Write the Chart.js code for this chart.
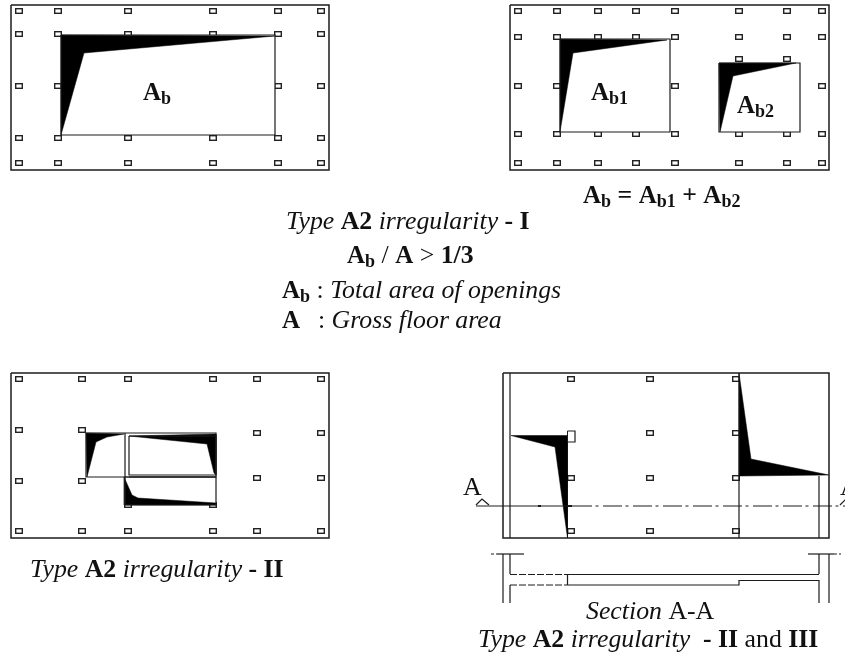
<!DOCTYPE html>
<html>
<head>
<meta charset="utf-8">
<style>html,body{margin:0;padding:0;background:#fff;overflow:hidden}canvas{display:block}</style>
<script src="https://cdn.jsdelivr.net/npm/chart.js@4/dist/chart.umd.min.js"></script>
</head>
<body>
<canvas id="c" width="845" height="660" style="width:845px;height:660px"></canvas>
<script>
// ---------- column marks: x list x y list per panel ----------
const p1ColX = [19, 58, 128, 213, 278, 321];
const p1RowY = [11, 34, 138, 163];
const p1MidX = [19, 58, 278, 321];
const p1MidY = [86];

const p2ColX = [518, 557, 598, 636, 675, 739, 787, 822];
const p2RowY = [11, 37, 134, 163];
const p2MidX = [518, 557, 675, 822];
const p2MidY = [86];
const p2UpperX = [739, 787];
const p2UpperY = [59];

const p3RowAllX = [19, 82, 128, 213, 257, 321];
const p3RowAllY = [379, 531];
const p3LeftX = [19, 82];
const p3LeftY = [430, 481];
const p3RightX = [257, 321];
const p3RightY = [433, 478];
const p3LowX = [128, 213];
const p3LowY = [505];

const p4AX = [571, 650, 736, 822];
const p4AY = [379];
const p4BX = [650, 736, 822];
const p4BY = [433];
const p4CX = [571, 650, 736];
const p4CY = [478, 531];

// ---------- openings (white interiors) ----------
const open1 = [[61,35],[275,35],[275,135],[61,135],[61,35]];
const openB1 = [[560,39],[670,39],[670,132],[560,132],[560,39]];
const openB2 = [[719,63],[800,63],[800,132],[719,132],[719,63]];
const open3A = [[86,433],[216,433],[216,477],[86,477],[86,433]];
const open3B = [[124.5,477],[216,477],[216,505],[124.5,505],[124.5,477]];
const open4A = [[739,373],[829,373],[829,476],[739,476],[739,373]];

// ---------- black wedges ----------
const wedge1 = [[61,35],[275,36],[84,53],[61,135],[61,35]];
const wedgeB1 = [[560,39],[667,40],[573,53],[560,132],[560,39]];
const wedgeB2 = [[719,63],[796,63],[733,76],[720,132],[719,63]];
const wedge3A = [[86,433],[124,434],[107,437],[96,442],[87,477],[86,433]];
const wedge3B = [[129,436],[216,434],[216,475],[214,473],[207,444],[129,436]];
const wedge3C = [[124,477],[132,495],[138,498],[216,503],[216,505],[124,505],[124,477]];
const wedge4A = [[511,435.5],[567.5,435.5],[567.5,538],[555,447],[511,435.5]];
const wedge4B = [[739,373],[751,459],[829,475],[739,476],[739,373]];

// ---------- outlines ----------
const frame1 = [[11,5],[329,5],[329,170],[11,170],[11,5]];
const frame2 = [[510,5],[829,5],[829,170],[510,170],[510,5]];
const frame3 = [[11,373],[329,373],[329,538],[11,538],[11,373]];
const frame4 = [[503,373],[829,373],[829,538],[503,538],[503,373]];
const wall4L = [[510,373],[510,538]];
const wall4R = [[739,373],[739,538]];
const wall4S = [[819,476],[819,538]];
const tallMark = [[567.5,431],[575,431],[575,442],[567.5,442]];
const tallInner = [[567.5,431],[567.5,442]];
const inner3 = [[129,436],[216,436],[216,475],[129,475],[129,436]];
const cut3 = [[125,433],[125,505]];
const cut3b = [[129,477],[216,477]];

const sectionSolid = [[476,506],[573,506]];
const sectionDash = [[573,506],[845,506]];
const sectionDot1 = [[538,506],[541,506]];
const sectionDot2 = [[568,506],[572,506]];
const arrowL = [[476,505],[482,499],[489,505]];
const arrowR = [[840,505],[846,499],[852,505]];

// ---------- section A-A ----------
const colA = [[503,554],[503,603]];
const colB = [[510,554],[510,574]];
const colB2 = [[510,585],[510,603]];
const colC = [[819,554],[819,574]];
const colC2 = [[819,580],[819,603]];
const colD = [[829,554],[829,603]];
const capL = [[497,554],[524,554]];
const capLd = [[491,554],[497,554]];
const capR = [[808,554],[834,554]];
const capRd = [[834,554],[841,554]];
const slabTop = [[567,574.5],[819,574.5]];
const slabTopD = [[510,574.5],[567,574.5]];
const slabBot = [[567,585],[739,585],[739,580.5],[819,580.5]];
const slabBotD = [[510,585],[567,585]];
const slabEnd = [[567.5,574.5],[567.5,585]];

// ---------- text ----------
const textRuns = [
  [["A","B"],["b","S"]],
  [["A","B"],["b1","S"]],
  [["A","B"],["b2","S"]],
  [["A","B"],["b","S"],[" = ","B2"],["A","B"],["b1","S"],[" + ","B2"],["A","B"],["b2","S"]],
  [["Type ","I"],["A2","B2"],[" irregularity ","I"],["- I","B2"]],
  [["A","B"],["b","S"],[" / ","R"],["A","B"],[" > ","R"],["1/3","B2"]],
  [["A","B"],["b","S"],[" : ","R"],["Total area of openings","I"]],
  [["A","B"]],
  [[": ","R"],["Gross floor area","I"]],
  [["Type ","I"],["A2","B2"],[" irregularity ","I"],["- II","B2"]],
  [["Section ","I"],["A-A","R"]],
  [["Type ","I"],["A2","B2"],[" irregularity  ","I"],["- II ","B2"],["and ","R"],["III","B2"]],
  [["A","R"]],
  [["A","R"]]
];
const textX = [143, 591, 737, 583, 286, 347, 282, 282, 318, 30, 586, 478, 463, 840];
const textY = [100, 100, 113, 203, 229, 263, 298, 328, 328, 577, 619, 647, 495, 495];

// ---------- styles ----------
const fontMap = {
  B:  {f:"bold 25px 'Liberation Serif'", dy:0},
  S:  {f:"bold 18px 'Liberation Serif'", dy:4},
  B2: {f:"bold 25.8px 'Liberation Serif'", dy:0},
  I:  {f:"italic 25.8px 'Liberation Serif'", dy:0},
  R:  {f:"25.8px 'Liberation Serif'", dy:0}
};
const INK = '#1c1c1c';

function pts(a){ return a.map(p => ({x:p[0], y:p[1]})); }
function grid(xs, ys){ const o=[]; ys.forEach(y => xs.forEach(x => o.push({x, y}))); return o; }

const markImg = document.createElement('canvas');
markImg.width = 8; markImg.height = 6;
(function(){ const g = markImg.getContext('2d');
  g.fillStyle='#fff'; g.fillRect(0,0,8,6);
  g.strokeStyle='#222'; g.lineWidth=1.4; g.strokeRect(0.7,0.7,6.6,4.6);
})();

function marks(xs, ys){ return {data:grid(xs,ys), pointStyle:markImg, pointRadius:4, showLine:false}; }
function area(a, col){ return {data:pts(a), showLine:true, fill:'shape', backgroundColor:col, borderColor:col, borderWidth:col==='#000'?0.5:0, pointRadius:0, tension:0}; }
function line(a, w, dash){ return {data:pts(a), showLine:true, fill:false, borderColor:INK, borderWidth:w||1.2, borderDash:dash||[], pointRadius:0, tension:0}; }

const datasets = [
  marks(p1ColX,p1RowY), marks(p1MidX,p1MidY),
  marks(p2ColX,p2RowY), marks(p2MidX,p2MidY), marks(p2UpperX,p2UpperY),
  marks(p3RowAllX,p3RowAllY), marks(p3LeftX,p3LeftY), marks(p3RightX,p3RightY), marks(p3LowX,p3LowY),
  marks(p4AX,p4AY), marks(p4BX,p4BY), marks(p4CX,p4CY),
  area(open1,'#fff'), area(openB1,'#fff'), area(openB2,'#fff'), area(open3A,'#fff'), area(open3B,'#fff'), area(open4A,'#fff'),
  area(wedge1,'#000'), area(wedgeB1,'#000'), area(wedgeB2,'#000'), area(wedge3A,'#000'), area(wedge3B,'#000'), area(wedge3C,'#000'), area(wedge4A,'#000'), area(wedge4B,'#000'),
  line(frame1,1.5), line(frame2,1.5), line(frame3,1.5), line(frame4,1.5),
  line(open1,1.2), line(openB1,1.2), line(openB2,1.2), line(open3A,1.2), line(open3B,1.2),
  line(wall4L), line(wall4R), line(wall4S), line(tallMark,1.2), line(tallInner,1),
  line(inner3,1.2), line(cut3,1.2), line(cut3b,1.2),
  line(sectionSolid,1), line(sectionDash,1.2,[19,3.5,3,4.5]), line(sectionDot1,2), line(sectionDot2,2),
  line(arrowL,1.2), line(arrowR,1.2),
  line(colA), line(colB), line(colB2), line(colC), line(colC2), line(colD),
  line(capL), line(capLd,1,[3,2]), line(capR), line(capRd,1,[3,2]),
  line(slabTop), line(slabTopD,1.2,[7,2]), line(slabBot), line(slabBotD,1.2,[7,2]), line(slabEnd)
];
datasets.forEach((d,i) => { d.order = datasets.length - i; });

const textPlugin = {
  id:'captions',
  afterDraw(chart){
    const c = chart.ctx, sx = chart.scales.x, sy = chart.scales.y;
    c.save();
    c.textBaseline='alphabetic'; c.textAlign='left'; c.fillStyle='#111';
    textRuns.forEach((runs,i) => {
      let x = sx.getPixelForValue(textX[i]);
      const y = sy.getPixelForValue(textY[i]);
      runs.forEach(([t,k]) => {
        const st = fontMap[k];
        c.font = st.f;
        c.fillText(t, x, y + st.dy);
        x += c.measureText(t).width;
      });
    });
    c.restore();
  }
};

new Chart(document.getElementById('c').getContext('2d'), {
  type:'scatter',
  data:{datasets},
  plugins:[textPlugin],
  options:{
    responsive:false, animation:false, devicePixelRatio:1,
    layout:{padding:0, autoPadding:false},
    plugins:{legend:{display:false}, tooltip:{enabled:false}, title:{display:false}},
    events:[],
    scales:{
      x:{type:'linear', min:0, max:845, display:false},
      y:{type:'linear', min:0, max:660, reverse:true, display:false}
    }
  }
});
</script>
</body>
</html>
